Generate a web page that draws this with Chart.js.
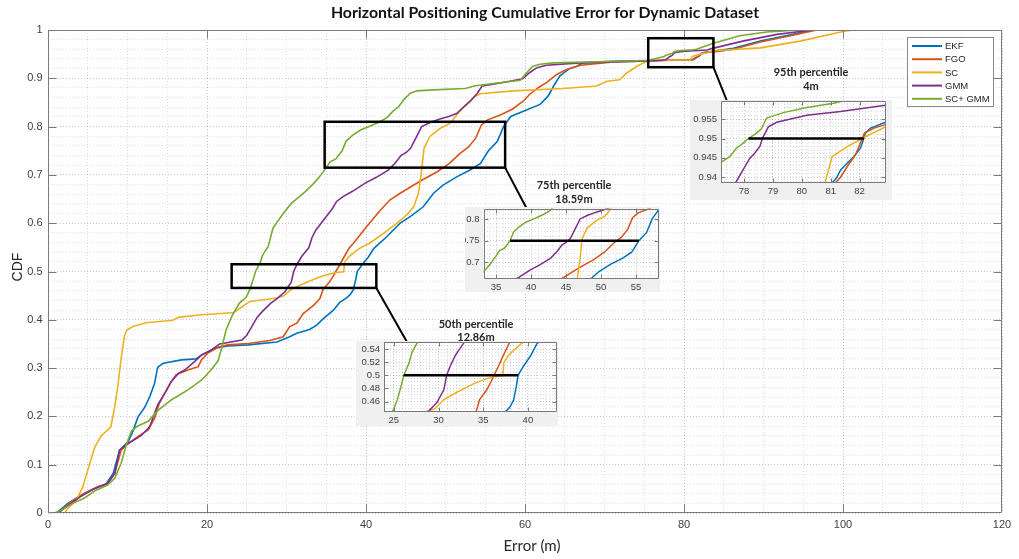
<!DOCTYPE html>
<html>
<head>
<meta charset="utf-8">
<title>Horizontal Positioning Cumulative Error for Dynamic Dataset</title>
<script src="https://cdn.jsdelivr.net/npm/chart.js@4.4.1/dist/chart.umd.min.js"></script>
<style>
  html, body { margin: 0; padding: 0; background: #fff; }
  #wrap { position: relative; width: 1019px; height: 559px; overflow: hidden; background: #fff; }
  #wrap canvas { position: absolute; }
</style>
</head>
<body>
<div id="wrap">
  <canvas id="main" width="1019" height="559" style="left:0;top:0"></canvas>
  <canvas id="in50"></canvas>
  <canvas id="in75"></canvas>
  <canvas id="in95"></canvas>
</div>
<script>
/* CDF of horizontal error: [error (m), CDF] */
const ekf = [[1.05,0],[2.5,0.02],[3.8,0.033],[5.5,0.048],[7.3,0.06],[8.2,0.082],[9.0,0.13],[10.1,0.148],[10.7,0.17],[11.3,0.198],[12.2,0.22],[12.8,0.241],[13.4,0.268],[13.8,0.302],[14.5,0.31],[16.8,0.317],[18.6,0.319],[19.4,0.328],[21.0,0.341],[22.6,0.346],[25.2,0.348],[28.8,0.354],[30.4,0.365],[31.3,0.372],[32.9,0.38],[33.8,0.389],[34.6,0.402],[35.9,0.42],[36.7,0.436],[37.6,0.446],[38.0,0.452],[38.4,0.462],[38.7,0.483],[38.9,0.5],[39.5,0.514],[40.3,0.53],[41.0,0.548],[42.6,0.572],[44.3,0.6],[45.6,0.614],[47.2,0.634],[48.5,0.662],[49.7,0.679],[51.4,0.696],[53.1,0.71],[54.4,0.724],[55.4,0.75],[56.5,0.769],[57.3,0.8],[58.2,0.821],[59.8,0.832],[61.9,0.846],[62.9,0.863],[63.6,0.884],[64.4,0.905],[65.5,0.919],[66.5,0.925],[67.3,0.932],[71.1,0.935],[75.3,0.937],[81.05,0.9385],[81.22,0.94],[81.34,0.9418],[81.57,0.9436],[81.8,0.9453],[82.03,0.9475],[82.15,0.95],[82.2,0.9514],[82.38,0.9527],[82.9,0.9542],[84.5,0.958],[86.2,0.962],[89.6,0.977],[93.7,0.991],[96.2,1.0]];
const fgo = [[1.26,0],[2.9,0.023],[4.6,0.041],[6.3,0.055],[7.5,0.061],[8.4,0.082],[9.2,0.13],[10.1,0.144],[11.3,0.158],[12.6,0.172],[13.4,0.196],[14.0,0.227],[14.7,0.248],[15.5,0.272],[16.1,0.286],[17.6,0.296],[18.9,0.303],[19.3,0.317],[20.1,0.331],[21.4,0.343],[22.6,0.348],[25.2,0.351],[27.9,0.357],[29.6,0.365],[30.4,0.386],[31.3,0.393],[32.1,0.413],[33.4,0.43],[34.2,0.444],[34.6,0.463],[35.4,0.478],[35.9,0.491],[36.2,0.5],[36.7,0.514],[37.2,0.529],[37.9,0.549],[38.4,0.558],[40.1,0.593],[41.8,0.627],[43.0,0.648],[44.3,0.662],[46.9,0.688],[48.9,0.706],[50.5,0.724],[51.8,0.744],[52.9,0.758],[53.8,0.776],[54.5,0.803],[55.3,0.814],[56.9,0.824],[58.4,0.836],[59.8,0.853],[60.6,0.867],[61.7,0.881],[62.7,0.891],[64.0,0.908],[65.3,0.919],[67.0,0.927],[71.1,0.934],[75.3,0.936],[81.16,0.9385],[81.34,0.94],[81.57,0.9427],[81.86,0.9458],[82.03,0.9488],[82.17,0.9514],[82.5,0.9527],[82.9,0.9536],[84.5,0.956],[86.2,0.96],[89.6,0.975],[93.7,0.989],[96.7,1.0]];
const sc = [[2.1,0],[2.5,0.01],[3.6,0.027],[4.4,0.055],[5.2,0.1],[5.9,0.137],[6.7,0.16],[7.9,0.178],[8.4,0.22],[8.8,0.265],[9.2,0.32],[9.6,0.365],[9.9,0.379],[10.7,0.386],[12.3,0.394],[15.7,0.399],[16.4,0.405],[19.0,0.41],[23.4,0.415],[24.4,0.427],[25.4,0.438],[28.8,0.445],[29.6,0.449],[30.6,0.463],[31.9,0.473],[33.9,0.487],[35.4,0.495],[36.3,0.498],[37.2,0.4995],[37.3,0.519],[37.8,0.53],[38.7,0.542],[39.4,0.55],[40.4,0.558],[42.2,0.579],[43.9,0.6],[45.1,0.617],[46.0,0.634],[46.6,0.662],[47.0,0.71],[47.3,0.755],[48.0,0.779],[49.3,0.796],[50.6,0.807],[51.4,0.824],[52.3,0.841],[53.6,0.862],[54.4,0.868],[58.5,0.874],[64.8,0.879],[69.0,0.884],[70.3,0.894],[71.9,0.897],[72.8,0.911],[74.1,0.925],[74.9,0.932],[75.5,0.937],[80.8,0.9385],[81.05,0.9453],[81.57,0.9479],[82.09,0.95],[82.9,0.953],[83.6,0.957],[89.6,0.963],[94.6,0.977],[100,0.997],[101.3,1.0]];
const gmm = [[1.26,0],[2.9,0.02],[4.2,0.035],[5.9,0.051],[7.5,0.061],[8.4,0.082],[9.0,0.13],[10.1,0.144],[11.7,0.16],[12.8,0.179],[13.8,0.224],[14.7,0.248],[15.5,0.272],[16.4,0.289],[17.2,0.296],[18.4,0.313],[19.3,0.327],[20.5,0.337],[21.6,0.35],[24.4,0.358],[25.0,0.368],[25.6,0.385],[26.3,0.405],[27.0,0.418],[28.0,0.434],[28.8,0.444],[29.8,0.458],[30.6,0.478],[30.9,0.5],[31.3,0.514],[31.9,0.531],[32.8,0.549],[33.2,0.57],[33.7,0.586],[34.7,0.607],[35.8,0.631],[36.3,0.645],[37.1,0.655],[38.3,0.666],[39.9,0.683],[41.3,0.695],[42.8,0.71],[43.7,0.725],[44.4,0.74],[45.1,0.747],[45.6,0.755],[46.3,0.777],[47.0,0.8],[48.0,0.808],[49.2,0.815],[50.4,0.821],[51.4,0.827],[52.3,0.841],[53.1,0.852],[54.0,0.869],[54.6,0.884],[56.0,0.888],[58.1,0.894],[59.7,0.899],[60.6,0.912],[61.5,0.922],[62.7,0.927],[66.9,0.932],[75.3,0.936],[77.0,0.937],[77.7,0.9385],[78.2,0.9449],[78.37,0.9462],[78.55,0.948],[78.64,0.9501],[78.84,0.953],[79.13,0.9542],[80.17,0.956],[81.34,0.957],[82.9,0.9586],[83.6,0.962],[87.4,0.977],[91.7,0.991],[94.6,0.997],[96.2,1.0]];
const scGmm = [[0.84,0],[1.9,0.008],[3.1,0.02],[4.5,0.03],[5.9,0.046],[7.5,0.058],[8.4,0.072],[9.2,0.103],[9.9,0.144],[10.5,0.17],[11.3,0.18],[12.6,0.19],[13.8,0.212],[15.5,0.234],[17.6,0.255],[19.3,0.275],[20.5,0.296],[21.4,0.315],[21.9,0.345],[22.4,0.379],[23.2,0.41],[24.1,0.435],[24.9,0.446],[25.4,0.463],[25.9,0.488],[26.1,0.5],[26.7,0.519],[27.0,0.534],[27.7,0.552],[28.3,0.59],[29.5,0.618],[30.6,0.641],[31.4,0.652],[32.4,0.666],[33.4,0.682],[34.2,0.697],[35.0,0.715],[35.5,0.727],[36.2,0.733],[37.0,0.75],[37.5,0.77],[38.3,0.782],[39.3,0.793],[40.4,0.8],[41.6,0.809],[42.6,0.818],[43.4,0.832],[44.1,0.841],[44.8,0.857],[45.6,0.869],[46.4,0.874],[48.5,0.876],[52.5,0.879],[53.6,0.884],[54.5,0.886],[57.9,0.893],[59.4,0.896],[60.4,0.915],[61.0,0.925],[61.9,0.929],[63.6,0.932],[75.3,0.937],[76.5,0.941],[77.24,0.944],[77.5,0.9453],[77.73,0.9475],[77.97,0.9488],[78.15,0.95],[78.43,0.9514],[78.6,0.9525],[78.78,0.9553],[79.36,0.9567],[80.17,0.958],[81.1,0.9591],[81.57,0.96],[83.6,0.972],[87.0,0.988],[90.4,0.996],[94.6,1.0]];

const seriesNames = ['EKF', 'FGO', 'SC', 'GMM', 'SC+ GMM'];
const seriesData = [ekf, fgo, sc, gmm, scGmm];
const seriesColors = ['#0072BD', '#D95319', '#EDB120', '#7E2F8E', '#77AC30'];

// percentile lines: level, SC+GMM error, EKF error
const pctLevels = [0.5, 0.75, 0.95];
const pctLeft = [26.1, 37.0, 78.15];
const pctRight = [38.9, 55.4, 82.15];
const pctTitles = ['50th percentile', '75th percentile', '95th percentile'];
const pctGaps = ['12.86m', '18.59m', '4m'];

// zoom rectangles on the main axes (data units)
const zoomX = [[23.1, 41.3], [34.8, 57.5], [75.5, 83.7]];
const zoomY = [[0.466, 0.515], [0.715, 0.81], [0.923, 0.983]];

// inset axes limits and tick steps
const insetX = [[23.9, 43.2], [33.2, 58.2], [77.2, 82.9]];
const insetY = [[0.444, 0.551], [0.663, 0.824], [0.9385, 0.9597]];
const insetXStep = [[1, 5], [1, 5], [0.2, 1]];
const insetYStep = [[0.005, 0.02], [0.01, 0.05], [0.001, 0.005]];

/* ---- layout (pixels) ---- */
const PANELS = [
  { id: 'in50', l: 356, t: 341, w: 202, h: 85, padL: 28, padT: 1, padR: 1.5, padB: 14, anchor: [407, 342], note: [476, 324, 337.5] },
  { id: 'in75', l: 465, t: 207, w: 195, h: 85, padL: 18.5, padT: 1.5, padR: 1.5, padB: 13.5, anchor: [526.7, 208.5], note: [574, 185, 199.5] },
  { id: 'in95', l: 690, t: 100, w: 202, h: 100, padL: 31, padT: 1, padR: 6.5, padB: 17, anchor: [727, 101], note: [811, 72.7, 86.7] }
];
const AXIS_COLOR = '#7a7a7a';
const GRID_MAJOR = 'rgba(0,0,0,0.22)';
const GRID_MINOR = 'rgba(0,0,0,0.13)';
const TICK_FONT = 'Liberation Sans';

function stepTicks(min, max, step) {
  const out = [];
  for (let k = Math.ceil(min / step - 1e-9); k * step <= max + 1e-9; k++) {
    out.push({ value: +(k * step).toFixed(6) });
  }
  return out;
}
function isMajor(v, major) {
  const r = v / major;
  return Math.abs(r - Math.round(r)) < 1e-6;
}
const fmt = v => String(+v.toFixed(4));
const toXY = arr => arr.map(p => ({ x: p[0], y: p[1] }));

function lineSets(width) {
  return seriesData.map((d, i) => ({
    label: seriesNames[i],
    data: toXY(d),
    borderColor: seriesColors[i],
    borderWidth: width,
    showLine: true,
    pointRadius: 0,
    tension: 0,
    order: -i
  }));
}

function axisOpts(min, max, step, major, size, fontSize, pad, isX) {
  return {
    type: 'linear', min, max,
    afterBuildTicks: s => { s.ticks = stepTicks(min, max, step); },
    afterFit: s => {
      if (isX) s.height = size; else s.width = size;
      s.paddingLeft = s.paddingRight = s.paddingTop = s.paddingBottom = 0;
    },
    ticks: {
      autoSkip: false, maxRotation: 0, padding: pad, color: '#404040',
      font: { family: TICK_FONT, size: fontSize },
      callback: v => isMajor(v, major) ? fmt(v) : ''
    },
    grid: {
      drawTicks: false, lineWidth: 1,
      color: c => isMajor(c.tick.value, major) ? GRID_MAJOR : GRID_MINOR
    },
    border: { display: false, dash: [1, 2] }
  };
}

// box with inward ticks, MATLAB style
function drawFrame(chart, majorX, majorY, len) {
  const { ctx, chartArea: a, scales: { x, y } } = chart;
  const L = Math.round(a.left) + 0.5, R = Math.round(a.right) - 0.5;
  const T = Math.round(a.top) + 0.5, B = Math.round(a.bottom) - 0.5;
  ctx.save();
  ctx.strokeStyle = AXIS_COLOR;
  ctx.lineWidth = 1;
  ctx.beginPath();
  majorX.forEach(v => {
    const px = Math.round(x.getPixelForValue(v)) + 0.5;
    if (px <= L + 1 || px >= R - 1) return;
    ctx.moveTo(px, B); ctx.lineTo(px, B - len);
    ctx.moveTo(px, T); ctx.lineTo(px, T + len);
  });
  majorY.forEach(v => {
    const py = Math.round(y.getPixelForValue(v)) + 0.5;
    if (py <= T + 1 || py >= B - 1) return;
    ctx.moveTo(L, py); ctx.lineTo(L + len, py);
    ctx.moveTo(R, py); ctx.lineTo(R - len, py);
  });
  ctx.rect(L, T, R - L, B - T);
  ctx.stroke();
  ctx.restore();
}

const mainExtras = {
  id: 'mainExtras',
  afterDatasetsDraw(chart) {
    const { ctx, scales: { x, y } } = chart;
    drawFrame(chart, stepTicks(0, 120, 20).map(t => t.value), stepTicks(0, 1, 0.1).map(t => t.value), 8);

    ctx.save();
    ctx.strokeStyle = '#000';
    zoomX.forEach((xr, i) => {
      const x0 = x.getPixelForValue(xr[0]), x1 = x.getPixelForValue(xr[1]);
      const y0 = y.getPixelForValue(zoomY[i][1]), y1 = y.getPixelForValue(zoomY[i][0]);
      ctx.lineWidth = 2.5;
      ctx.strokeRect(x0, y0, x1 - x0, y1 - y0);
      ctx.lineWidth = 2;
      ctx.beginPath();
      ctx.moveTo(x1, y1);
      ctx.lineTo(PANELS[i].anchor[0], PANELS[i].anchor[1]);
      ctx.stroke();
    });

    // percentile notes
    ctx.fillStyle = '#262626';
    ctx.textAlign = 'center';
    ctx.textBaseline = 'middle';
    ctx.font = 'bold 11px Lato';
    PANELS.forEach((p, i) => {
      ctx.fillText(pctTitles[i], p.note[0], p.note[1]);
      ctx.fillText(pctGaps[i], p.note[0], p.note[2]);
    });

    // legend
    const lg = { x: 907, y: 37, w: 86, h: 69, row0: 46, rowH: 13.2 };
    ctx.fillStyle = '#fff';
    ctx.fillRect(lg.x, lg.y, lg.w, lg.h);
    ctx.strokeStyle = '#8a8a8a';
    ctx.lineWidth = 1;
    ctx.strokeRect(lg.x + 0.5, lg.y + 0.5, lg.w, lg.h);
    ctx.textAlign = 'left';
    ctx.font = '9.5px ' + TICK_FONT;
    seriesNames.forEach((n, i) => {
      const ry = lg.row0 + i * lg.rowH;
      ctx.strokeStyle = seriesColors[i];
      ctx.lineWidth = 2;
      ctx.beginPath(); ctx.moveTo(912, ry); ctx.lineTo(942, ry); ctx.stroke();
      ctx.fillStyle = '#262626';
      ctx.fillText(n, 945, ry + 0.5);
    });
    ctx.restore();
  },
  afterDraw(chart) {
    const ctx = chart.ctx;
    ctx.save();
    ctx.fillStyle = '#111';
    ctx.textAlign = 'center';
    ctx.textBaseline = 'middle';
    ctx.font = 'bold 15.8px Lato';
    ctx.fillText('Horizontal Positioning Cumulative Error for Dynamic Dataset', 545, 12.5);
    ctx.fillStyle = '#262626';
    ctx.font = '15px Lato';
    ctx.fillText('Error (m)', 532, 546);
    ctx.translate(18, 267);
    ctx.rotate(-Math.PI / 2);
    ctx.font = '14px ' + TICK_FONT;
    ctx.fillText('CDF', 0, 0);
    ctx.restore();
  }
};

new Chart(document.getElementById('main'), {
  type: 'scatter',
  data: { datasets: lineSets(1.6) },
  options: {
    responsive: false, animation: false, events: [],
    layout: { padding: { left: 0, top: 30, right: 17, bottom: 0 } },
    plugins: { legend: { display: false }, tooltip: { enabled: false }, title: { display: false } },
    scales: {
      x: axisOpts(0, 120, 5, 20, 46, 11, 5.4, true),
      y: axisOpts(0, 1, 0.02, 0.1, 48, 11, 5.5, false)
    }
  },
  plugins: [mainExtras]
});

const insetFrame = {
  id: 'insetFrame',
  beforeDraw(chart) {
    const { ctx, chartArea: a } = chart;
    ctx.save();
    ctx.fillStyle = '#f0f0f0';
    ctx.fillRect(0, 0, chart.width, chart.height);
    ctx.fillStyle = '#fff';
    ctx.fillRect(a.left, a.top, a.right - a.left, a.bottom - a.top);
    ctx.restore();
  },
  afterDatasetsDraw(chart, args, opts) {
    drawFrame(chart, opts.majorX, opts.majorY, 4);
  }
};

PANELS.forEach((p, i) => {
  const cv = document.getElementById(p.id);
  cv.width = p.w; cv.height = p.h;
  cv.style.left = p.l + 'px'; cv.style.top = p.t + 'px';
  const [xs, xm] = insetXStep[i], [ys, ym] = insetYStep[i];
  const sets = lineSets(1.5);
  sets.push({
    label: pctTitles[i],
    data: [{ x: pctLeft[i], y: pctLevels[i] }, { x: pctRight[i], y: pctLevels[i] }],
    borderColor: '#000', borderWidth: 2.5, showLine: true, pointRadius: 0, order: -10
  });
  new Chart(cv, {
    type: 'scatter',
    data: { datasets: sets },
    options: {
      responsive: false, animation: false, events: [],
      layout: { padding: { left: 0, top: p.padT, right: p.padR, bottom: 0 } },
      plugins: {
        legend: { display: false }, tooltip: { enabled: false },
        insetFrame: {
          majorX: stepTicks(insetX[i][0], insetX[i][1], xm).map(t => t.value),
          majorY: stepTicks(insetY[i][0], insetY[i][1], ym).map(t => t.value)
        }
      },
      scales: {
        x: axisOpts(insetX[i][0], insetX[i][1], xs, xm, p.padB, 9.5, 3, true),
        y: axisOpts(insetY[i][0], insetY[i][1], ys, ym, p.padL, 9.5, 4, false)
      }
    },
    plugins: [insetFrame]
  });
});
</script>
</body>
</html>
